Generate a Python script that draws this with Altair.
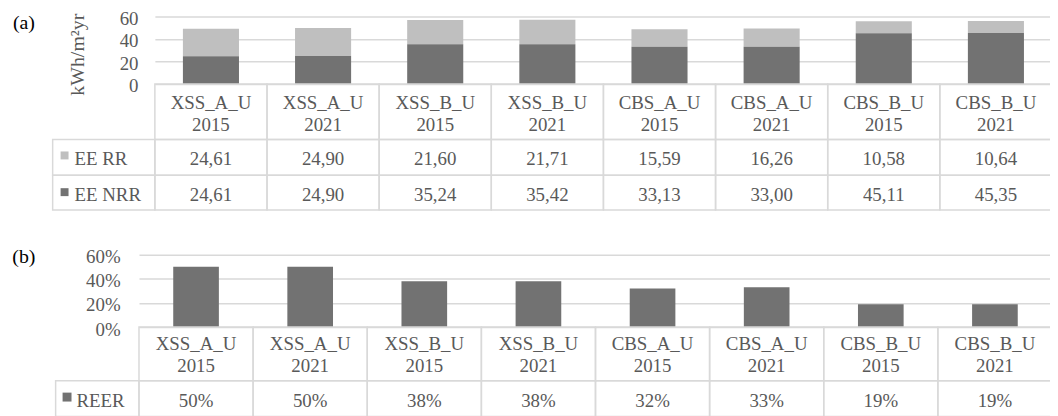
import altair as alt
import pandas as pd

# ---------------- data ----------------
cases = ["XSS_A_U", "XSS_A_U", "XSS_B_U", "XSS_B_U", "CBS_A_U", "CBS_A_U", "CBS_B_U", "CBS_B_U"]
years = ["2015", "2021", "2015", "2021", "2015", "2021", "2015", "2021"]
ee_rr = [24.61, 24.90, 21.60, 21.71, 15.59, 16.26, 10.58, 10.64]
ee_nrr = [24.61, 24.90, 35.24, 35.42, 33.13, 33.00, 45.11, 45.35]
reer = [0.50, 0.50, 0.38, 0.38, 0.32, 0.33, 0.19, 0.19]
series_names = ["EE RR", "EE NRR"]
reer_name = "REER"
ticks_a = [0, 20, 40, 60]
ticks_b = [0, 0.2, 0.4, 0.6]
y_title_a = "kWh/m²yr"

labels = [f"{c} {y}" for c, y in zip(cases, years)]

# ---------------- style ----------------
FONT = "Liberation Serif, Times New Roman, serif"
TEXT = "#595959"
GRID = "#d9d9d9"
LIGHT = "#bfbfbf"
DARK = "#727272"
FS = 19

df_a = pd.DataFrame({
    "label": labels * 2,
    "series": [series_names[0]] * 8 + [series_names[1]] * 8,
    "value": ee_rr + ee_nrr,
    "order": [1] * 8 + [0] * 8,
})
df_b = pd.DataFrame({"label": labels, "reer": reer})
df_hdr = pd.DataFrame({"label": labels, "case": cases, "year": years})


def xenc(x0, x1):
    return alt.X("label:N", sort=labels, axis=None,
                 scale=alt.Scale(range=[x0, x1], paddingInner=0, paddingOuter=0))


def cells(data, x0, x1, y0, y1):
    return alt.Chart(data).mark_rect(fillOpacity=0, stroke=GRID, strokeWidth=1.5).encode(
        x=xenc(x0, x1), y=alt.value(y0), y2=alt.value(y1))


def header_text(x0, x1, y_case, y_year):
    base = alt.Chart(df_hdr).mark_text(font=FONT, fontSize=FS, color=TEXT, baseline="middle",
                                       align="center")
    return [base.encode(x=xenc(x0, x1), y=alt.value(y_case), text="case:N"),
            base.encode(x=xenc(x0, x1), y=alt.value(y_year), text="year:N")]


def row_label(name, color, lx0, lx1, y0, y1, sq_x, sq_y, sq_size, tx, ty):
    d = pd.DataFrame({"series": [name]})
    box = alt.Chart(d).mark_rect(fillOpacity=0, stroke=GRID, strokeWidth=1.5).encode(
        x=alt.value(lx0), x2=alt.value(lx1), y=alt.value(y0), y2=alt.value(y1))
    sq = alt.Chart(d).mark_square(size=sq_size, color=color, opacity=1).encode(
        x=alt.value(sq_x), y=alt.value(sq_y))
    txt = alt.Chart(d).mark_text(font=FONT, fontSize=FS, color=TEXT, align="left",
                                 baseline="middle").encode(
        x=alt.value(tx), y=alt.value(ty), text="series:N")
    return [box, sq, txt]


def panel_label(text, x, y):
    return alt.Chart(pd.DataFrame({"t": [text]})).mark_text(
        font=FONT, fontSize=20, color="#000000", align="center", baseline="middle").encode(
        x=alt.value(x), y=alt.value(y), text="t:N")


# ---------------- panel (a) ----------------
AX0, AX1 = 148, 1052
bars_a = alt.Chart(df_a).mark_bar(width={"band": 0.5}).encode(
    x=xenc(AX0, AX1),
    y=alt.Y("value:Q", stack="zero",
            scale=alt.Scale(domain=[0, 60], range=[75, 7], nice=False),
            axis=alt.Axis(values=ticks_a, orient="left", offset=-AX0, domain=False, ticks=False,
                          grid=True, gridColor=GRID, gridWidth=1.5,
                          labelFont=FONT, labelFontSize=FS, labelColor=TEXT, labelPadding=17,
                          labelOffset=2,
                          title=y_title_a, titleFont=FONT, titleFontSize=20, titleColor=TEXT,
                          titleFontWeight="normal", titleAngle=270, titleX=-78, titleY=45,
                          titleBaseline="middle", titleAlign="center")),
    color=alt.Color("series:N", scale=alt.Scale(domain=series_names, range=[LIGHT, DARK]),
                    legend=None),
    order=alt.Order("order:Q"),
)

layers_a = [bars_a, cells(df_hdr, AX0, AX1, 75, 131)] + header_text(AX0, AX1, 94, 116)
row_y = [(131, 167), (167, 202)]
row_ty = [151, 187]
row_sq = [147, 184]
row_col = [LIGHT, DARK]
for i, name in enumerate(series_names):
    sub = df_a[df_a["series"] == name]
    y0, y1 = row_y[i]
    layers_a.append(cells(sub, AX0, AX1, y0, y1))
    layers_a.append(
        alt.Chart(sub).mark_text(font=FONT, fontSize=FS, color=TEXT, baseline="middle",
                                 align="center")
        .transform_calculate(txt="replace(format(datum.value, '.2f'), '.', ',')")
        .encode(x=xenc(AX0, AX1), y=alt.value(row_ty[i]), text="txt:N"))
    layers_a += row_label(name, row_col[i], 45, AX0, y0, y1, 57, row_sq[i], 64, 67, row_ty[i])
layers_a.append(panel_label("(a)", 16, 14))
panel_a = alt.layer(*layers_a)

# ---------------- panel (b) ----------------
BX0, BX1 = 132, 1052
bars_b = alt.Chart(df_b).mark_bar(width={"band": 0.4}, color=DARK).encode(
    x=xenc(BX0, BX1),
    y=alt.Y("reer:Q",
            scale=alt.Scale(domain=[0, 0.6], range=[320, 247], nice=False),
            axis=alt.Axis(values=ticks_b, format=".0%", orient="left", offset=-BX0, domain=False,
                          ticks=False, grid=True, gridColor=GRID, gridWidth=1.5,
                          labelFont=FONT, labelFontSize=FS, labelColor=TEXT, labelPadding=19,
                          labelOffset=2, title=None)),
)
layers_b = [bars_b, cells(df_hdr, BX0, BX1, 320, 374)] + header_text(BX0, BX1, 337, 359) + [
    cells(df_b, BX0, BX1, 374, 410),
    alt.Chart(df_b).mark_text(font=FONT, fontSize=FS, color=TEXT, baseline="middle",
                              align="center")
    .transform_calculate(txt="format(datum.reer, '.0%')")
    .encode(x=xenc(BX0, BX1), y=alt.value(394), text="txt:N")]
layers_b += row_label(reer_name, DARK, 48, BX0, 374, 410, 59.5, 390.5, 81, 69, 394)
layers_b.append(panel_label("(b)", 16, 249))
panel_b = alt.layer(*layers_b)

chart = alt.layer(panel_a, panel_b).resolve_scale(
    x="independent", y="independent", color="independent"
).properties(
    width=1050, height=408, autosize=alt.AutoSizeParams(type="none"), padding=0
).configure_view(stroke=None)

chart.save("out.html", embed_options={"renderer": "svg", "actions": False})
